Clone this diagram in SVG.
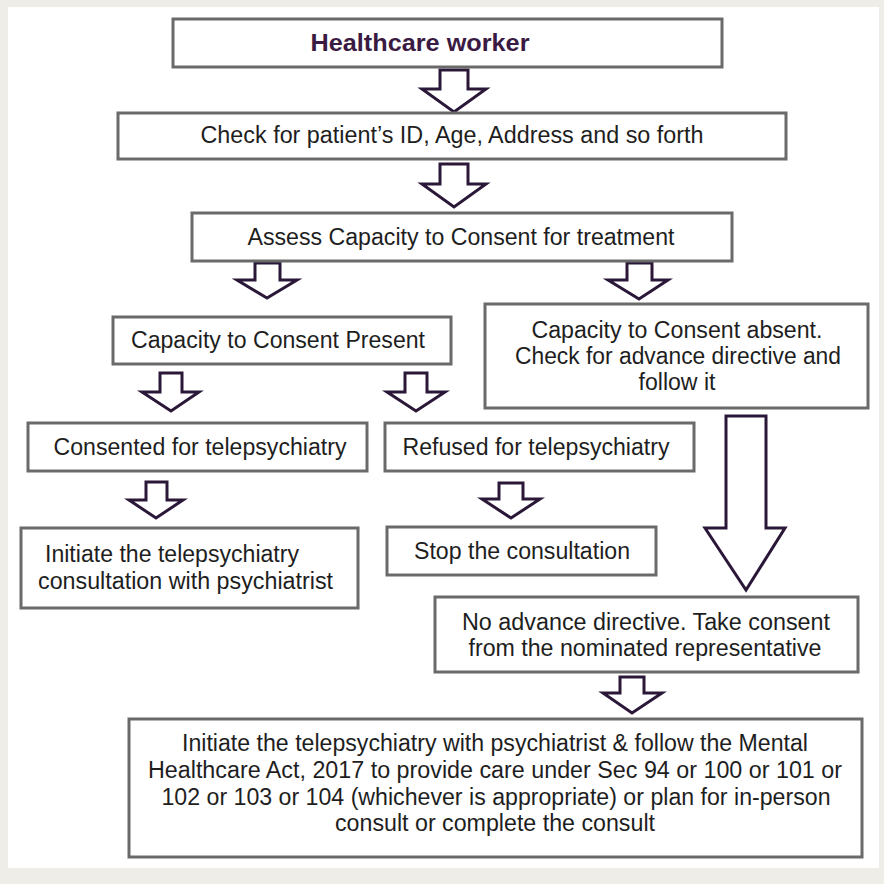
<svg xmlns="http://www.w3.org/2000/svg" width="884" height="884" viewBox="0 0 884 884">
<defs>
<style>
.bg{fill:#efede8}
.panel{fill:#ffffff}
.box{fill:#ffffff;stroke:#6a6a6a;stroke-width:3}
.t{font-family:"Liberation Sans",Arial,sans-serif;font-size:23px;fill:#1e1e1e;text-anchor:middle}
.tl{text-anchor:start}
.title{font-weight:bold;fill:#3a1a42}
.arr{fill:#ffffff;stroke:#2b1838;stroke-width:3;stroke-linejoin:miter}
</style>
</defs>
<rect class="bg" x="0" y="0" width="884" height="884"/>
<rect class="panel" x="8" y="7" width="871" height="861"/>

<g id="connectors">
<path class="arr" d="M440,70 H468 V89 H486 L454,112 L422,89 H440 Z"/>
<path class="arr" d="M440,164 H468 V184 H486 L454,207 L422,184 H440 Z"/>
<path class="arr" d="M255,263 H280 V280 H297 L267,298 L237,280 H255 Z"/>
<path class="arr" d="M627,263 H652 V280 H668 L639,299 L608,280 H627 Z"/>
<path class="arr" d="M160,373 H182 V392 H199 L171,411 L142,392 H160 Z"/>
<path class="arr" d="M405,373 H427 V392 H445 L416,411 L387,392 H405 Z"/>
<path class="arr" d="M146,482 H167 V500 H183 L156,518 L129,500 H146 Z"/>
<path class="arr" d="M499,483 H523 V499 H540 L511,518 L482,499 H499 Z"/>
<path class="arr" d="M726,416 H766 V528 H785 L746,590 L705,528 H726 Z"/>
<path class="arr" d="M620,677 H644 V693 H662 L632,713 L603,693 H620 Z"/>
</g>

<g id="healthcare-worker">
<rect class="box" x="173" y="19" width="549" height="48"/>
<text class="t title" x="420" y="51" textLength="219" lengthAdjust="spacingAndGlyphs">Healthcare worker</text>
</g>

<g id="check-id">
<rect class="box" x="118" y="113" width="668" height="46"/>
<text class="t" x="452" y="143" textLength="503" lengthAdjust="spacingAndGlyphs">Check for patient’s ID, Age, Address and so forth</text>
</g>

<g id="assess">
<rect class="box" x="192" y="213" width="540" height="48"/>
<text class="t" x="461" y="245" textLength="427" lengthAdjust="spacingAndGlyphs">Assess Capacity to Consent for treatment</text>
</g>

<g id="capacity-present">
<rect class="box" x="113" y="317" width="338" height="47"/>
<text class="t" x="278" y="348" textLength="294" lengthAdjust="spacingAndGlyphs">Capacity to Consent Present</text>
</g>

<g id="capacity-absent">
<rect class="box" x="485" y="304" width="383" height="104"/>
<text class="t" x="677" y="338" textLength="291" lengthAdjust="spacingAndGlyphs">Capacity to Consent absent.</text>
<text class="t" x="678" y="364" textLength="326" lengthAdjust="spacingAndGlyphs">Check for advance directive and</text>
<text class="t" x="677" y="390" textLength="77" lengthAdjust="spacingAndGlyphs">follow it</text>
</g>

<g id="consented">
<rect class="box" x="28" y="423" width="339" height="48"/>
<text class="t" x="200" y="455" textLength="293" lengthAdjust="spacingAndGlyphs">Consented for telepsychiatry</text>
</g>

<g id="refused">
<rect class="box" x="385" y="423" width="309" height="48"/>
<text class="t" x="536" y="455" textLength="267" lengthAdjust="spacingAndGlyphs">Refused for telepsychiatry</text>
</g>

<g id="initiate-consult">
<rect class="box" x="21" y="528" width="337" height="80"/>
<text class="t tl" x="45" y="562" textLength="254" lengthAdjust="spacingAndGlyphs">Initiate the telepsychiatry</text>
<text class="t tl" x="38" y="589" textLength="295" lengthAdjust="spacingAndGlyphs">consultation with psychiatrist</text>
</g>

<g id="stop">
<rect class="box" x="387" y="527" width="269" height="48"/>
<text class="t" x="522" y="559" textLength="216" lengthAdjust="spacingAndGlyphs">Stop the consultation</text>
</g>

<g id="no-advance-directive">
<rect class="box" x="435" y="597" width="423" height="75"/>
<text class="t" x="646" y="630" textLength="368" lengthAdjust="spacingAndGlyphs">No advance directive. Take consent</text>
<text class="t" x="645" y="656" textLength="353" lengthAdjust="spacingAndGlyphs">from the nominated representative</text>
</g>

<g id="final-care">
<rect class="box" x="129" y="719" width="733" height="138"/>
<text class="t" x="495" y="751" textLength="626" lengthAdjust="spacingAndGlyphs">Initiate the telepsychiatry with psychiatrist &amp; follow the Mental</text>
<text class="t" x="495" y="778" textLength="694" lengthAdjust="spacingAndGlyphs">Healthcare Act, 2017 to provide care under Sec 94 or 100 or 101 or</text>
<text class="t" x="496" y="805" textLength="669" lengthAdjust="spacingAndGlyphs">102 or 103 or 104 (whichever is appropriate) or plan for in-person</text>
<text class="t" x="495" y="831" textLength="320" lengthAdjust="spacingAndGlyphs">consult or complete the consult</text>
</g>
</svg>
